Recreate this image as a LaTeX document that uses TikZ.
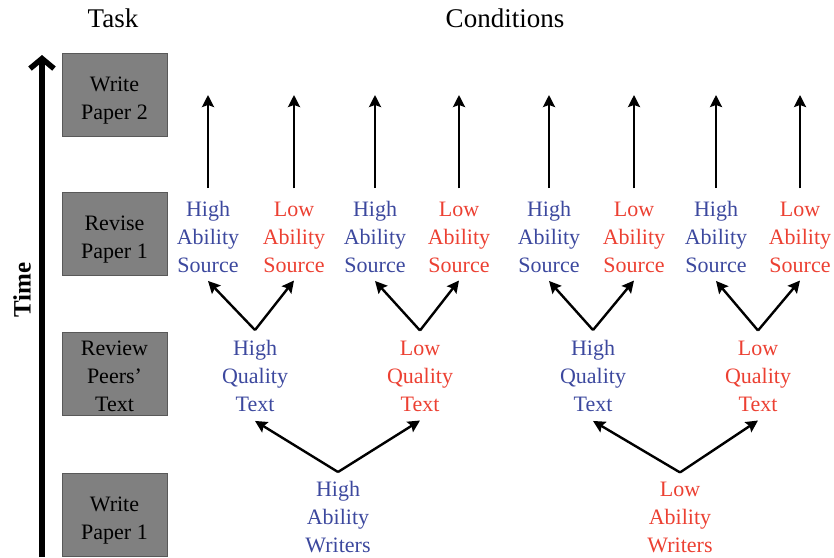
\documentclass[tikz,border=0pt]{standalone}
\usepackage{fontspec}
\setmainfont{Liberation Serif}
\usetikzlibrary{arrows.meta}

\definecolor{hiblue}{RGB}{60,72,158}
\definecolor{lored}{RGB}{236,64,50}
\definecolor{taskgray}{RGB}{128,128,128}

\begin{document}
\begin{tikzpicture}[x=1pt, y=-1pt,
    every node/.style={font=\fontsize{22}{28}\selectfont, align=center, inner sep=0pt},
    heading/.style={font=\fontsize{27}{32}\selectfont},
    taskbox/.style={draw=black!65, fill=taskgray, line width=0.6pt, minimum width=105pt, minimum height=83pt},
    hi/.style={text=hiblue}, lo/.style={text=lored},
    link/.style={-{Stealth[length=12pt, width=12pt, inset=2pt]}, line width=2.4pt}]
    \useasboundingbox (0,0) rectangle (834,557);

    % headings and time axis
    \node[heading] (task) at (113,18) {Task};
    \node[heading] (cond) at (505,18) {Conditions};
    \coordinate (tbot) at (42,557);
    \coordinate (ttop) at (42,55);
    \draw[line width=5.5pt, -{Straight Barb[length=10pt, width=24pt]}] (tbot) -- (ttop);
    \node[rotate=90, font=\fontsize{25}{30}\selectfont\bfseries] (time) at (22,290) {Time};

    % tasks
    \node[taskbox] (wp2) at (114.5,94.5) {};
    \node[taskbox] (rp1) at (114.5,233.5) {};
    \node[taskbox] (rev) at (114.5,373.5) {};
    \node[taskbox] (wp1) at (114.5,514.5) {};
    \node (wp2t) at ([yshift=-6.5pt]wp2.center) {Write\\Paper 2};
    \node (rp1t) at ([yshift=-6.5pt]rp1.center) {Revise\\Paper 1};
    \node (revt) at ([yshift=-3pt]rev.center) {Review\\Peers'\\Text};
    \node (wp1t) at ([yshift=-6.5pt]wp1.center) {Write\\Paper 1};

    % conditions
    \coordinate (topline) at (0,95);
    \foreach \x/\n/\c/\l in {208/s1/hi/High, 294/s2/lo/Low, 375/s3/hi/High, 459/s4/lo/Low,
                             549/s5/hi/High, 634/s6/lo/Low, 716/s7/hi/High, 800/s8/lo/Low} {
        \node[\c] (\n) at (\x,237) {\l\\Ability\\Source};
        \draw[link] ([yshift=13pt]\n.north) -- (\n.north |- topline);
    }
    \node[hi] (q1) at (255,376) {High\\Quality\\Text};
    \node[lo] (q2) at (420,376) {Low\\Quality\\Text};
    \node[hi] (q3) at (593,376) {High\\Quality\\Text};
    \node[lo] (q4) at (758,376) {Low\\Quality\\Text};
    \node[hi] (w1) at (338,517) {High\\Ability\\Writers};
    \node[lo] (w2) at (680,517) {Low\\Ability\\Writers};

    \draw[link] ([yshift=10pt]q1.north) -- ([yshift=-8pt]s1.south);
    \draw[link] ([yshift=10pt]q1.north) -- ([yshift=-8pt]s2.south);
    \draw[link] ([yshift=10pt]q2.north) -- ([yshift=-8pt]s3.south);
    \draw[link] ([yshift=10pt]q2.north) -- ([yshift=-8pt]s4.south);
    \draw[link] ([yshift=10pt]q3.north) -- ([yshift=-8pt]s5.south);
    \draw[link] ([yshift=10pt]q3.north) -- ([yshift=-8pt]s6.south);
    \draw[link] ([yshift=10pt]q4.north) -- ([yshift=-8pt]s7.south);
    \draw[link] ([yshift=10pt]q4.north) -- ([yshift=-8pt]s8.south);
    \draw[link] ([yshift=9pt]w1.north) -- ([yshift=-9pt]q1.south);
    \draw[link] ([yshift=9pt]w1.north) -- ([yshift=-9pt]q2.south);
    \draw[link] ([yshift=9pt]w2.north) -- ([yshift=-9pt]q3.south);
    \draw[link] ([yshift=9pt]w2.north) -- ([yshift=-9pt]q4.south);
\end{tikzpicture}
\end{document}
